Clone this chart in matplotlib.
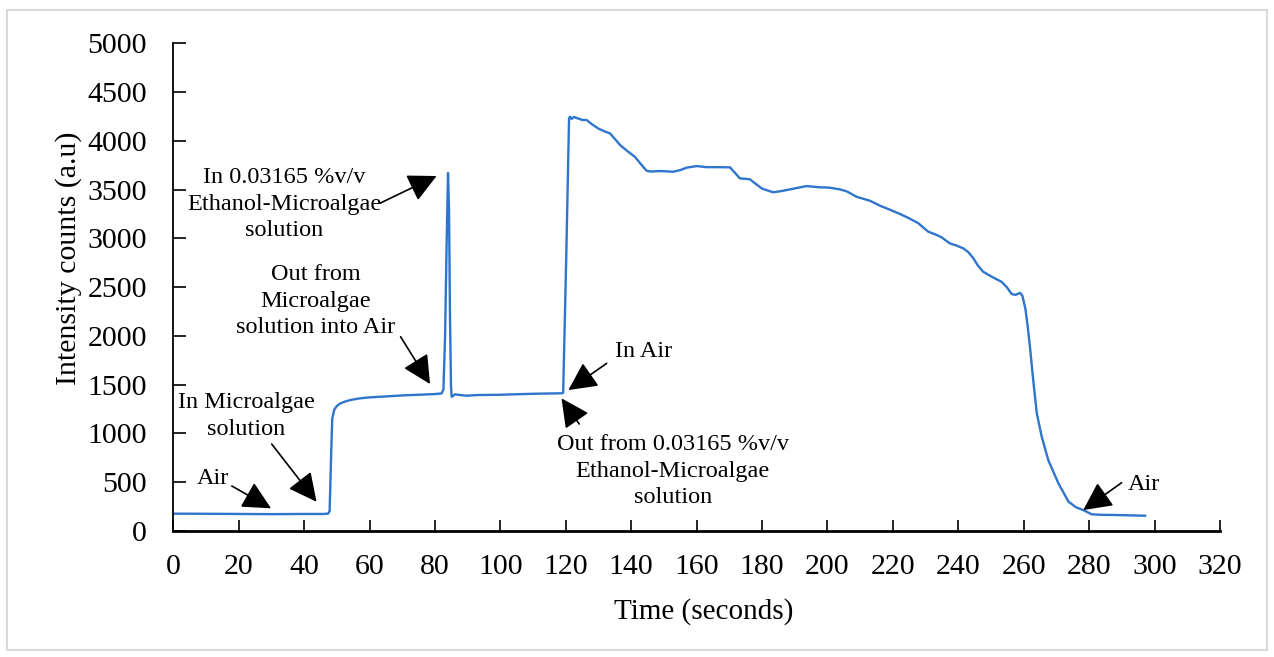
import matplotlib
matplotlib.use("Agg")
import matplotlib.pyplot as plt
from matplotlib.patches import Rectangle

# ----- DATA -----
time_s = [0, 10, 20, 30, 40, 46, 47.3, 47.8, 48.2, 48.6, 49.2, 50, 51, 52.5, 54, 57, 60, 65, 70, 75,
          80, 82, 82.6, 83.1, 83.6, 84.0, 84.3, 84.6, 84.9, 85.1, 85.5, 86.1, 87, 89.7, 93, 100, 105,
          110, 115, 118.8, 119.2, 120.2, 121.0, 121.3, 121.8, 122.5, 123.5, 125, 126.4, 128, 130, 132,
          133.5, 135, 136.6, 139, 141.1, 143, 144.7, 146, 149, 152.9, 155, 157, 160, 163, 166, 170.2,
          171.5, 173.2, 175, 176.3, 178, 180, 183.4, 186, 189, 193.6, 197.7, 200.5, 203.8, 206, 208.9,
          213, 216.1, 219, 222.2, 225, 227.8, 230.8, 233, 234.9, 237.4, 239.5, 241.5, 243, 244.6, 246,
          247.6, 250, 253.2, 254.8, 256.3, 257.5, 258.9, 259.6, 260.5, 261.2, 261.9, 262.9, 264.0,
          265.5, 267.5, 270.6, 273.7, 276, 278.2, 280.8, 284, 288.4, 292, 297.1]
intensity = [175, 174, 172, 170, 172, 172, 175, 200, 700, 1150, 1240, 1280, 1305, 1325, 1340, 1358,
             1368, 1378, 1388, 1395, 1402, 1408, 1450, 2000, 3000, 3670, 3300, 2200, 1500, 1375, 1380,
             1400, 1395, 1385, 1392, 1395, 1400, 1405, 1408, 1410, 1415, 2900, 4230, 4247, 4225, 4245,
             4232, 4215, 4213, 4170, 4125, 4095, 4077, 4020, 3957, 3890, 3837, 3760, 3693, 3685, 3690,
             3683, 3700, 3725, 3741, 3730, 3730, 3728, 3680, 3615, 3610, 3605, 3560, 3510, 3472, 3485,
             3505, 3536, 3523, 3520, 3502, 3480, 3426, 3385, 3334, 3295, 3249, 3205, 3154, 3068, 3040,
             3010, 2948, 2925, 2897, 2860, 2795, 2720, 2657, 2610, 2554, 2500, 2428, 2420, 2440, 2410,
             2280, 2100, 1888, 1546, 1204, 965, 725, 486, 298, 240, 212, 168, 163, 161, 158, 154]

x_ticks = list(range(0, 321, 20))
y_ticks = list(range(0, 5001, 500))

# label text, text position, arrow tail, arrow tip (data coords)
notes = [
    ("Air", (12.1, 531), (17.9, 459), (29.9, 230)),
    ("In Microalgae\nsolution", (22.4, 1177), (30.1, 889), (43.8, 297)),
    ("Out from\nMicroalgae\nsolution into Air", (43.5, 2354), (69.5, 1990), (78.5, 1505)),
    ("In 0.03165 %v/v\nEthanol-Microalgae\nsolution", (33.9, 3350), (63.2, 3360), (80.5, 3639)),
    ("In Air", (143.9, 1836), (132.5, 1717), (120.8, 1443)),
    ("Out from 0.03165 %v/v\nEthanol-Microalgae\nsolution", (152.7, 612), (124.1, 1095), (118.7, 1358)),
    ("Air", (296.8, 479), (289.9, 492), (278.2, 212)),
]

plt.rcParams["font.family"] = ["Liberation Serif", "DejaVu Serif"]

fig = plt.figure(figsize=(12.74, 6.57), dpi=100)
ax = fig.add_axes([0.136, 0.1922, 0.8216, 0.7418])

ax.plot(time_s, intensity, color="#2F75CC", linewidth=1.7)

ax.set_xlim(0, 320)
ax.set_ylim(0, 5000)
ax.set_xticks(x_ticks)
ax.set_yticks(y_ticks)
ax.tick_params(direction="in", labelsize=21.5, width=1.2, color="black")
ax.tick_params(axis="y", length=9, pad=19)
ax.tick_params(axis="x", length=8, pad=17)
for s in ["top", "right"]:
    ax.spines[s].set_visible(False)
ax.spines["left"].set_linewidth(1.3)
ax.spines["bottom"].set_linewidth(2.0)

ax.set_xlabel("Time (seconds)", fontsize=21)
ax.set_ylabel("Intensity counts (a.u)", fontsize=21.5)
ax.xaxis.set_label_coords(0.507, -0.138)
ax.yaxis.set_label_coords(-0.087, 0.56)

for text, pos, tail, tip in notes:
    ax.text(pos[0], pos[1], text, fontsize=17.5, ha="center", va="center", linespacing=1.35)
    ax.annotate("", xy=tip, xytext=tail,
                arrowprops=dict(arrowstyle="-|>,head_length=0.8,head_width=0.4",
                                mutation_scale=22, color="black", lw=1.2,
                                shrinkA=0, shrinkB=0))

# light frame around the whole picture
fig.patches.append(Rectangle((7 / 1274, 7 / 657), 1260 / 1274, 640 / 657,
                             transform=fig.transFigure, fill=False,
                             edgecolor="#d9d9d9", linewidth=1.5))

fig.savefig("out.png", dpi=100)
